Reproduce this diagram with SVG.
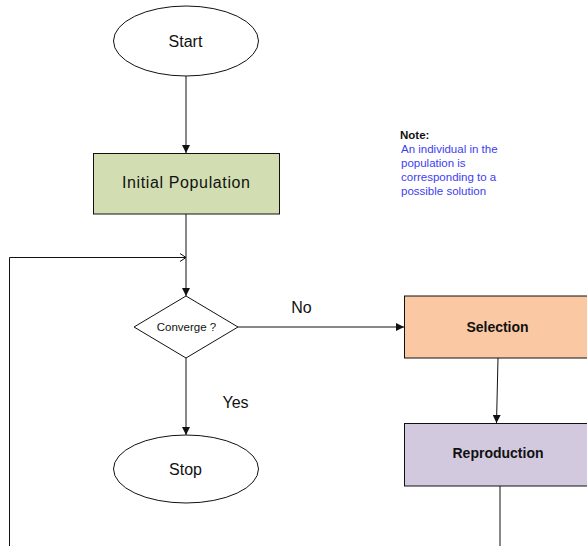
<svg xmlns="http://www.w3.org/2000/svg" width="587" height="546" viewBox="0 0 587 546">
<style>
.ln{fill:none;stroke:#111;stroke-width:1}
.sh{stroke:#111;stroke-width:1}
.t{font-family:"Liberation Sans",Arial,sans-serif;fill:#111;text-anchor:middle}
.big{font-size:16px}
.bold{font-size:14px;font-weight:bold}
.note{font-family:"Liberation Sans",Arial,sans-serif;font-size:11.5px;fill:#3d3df2}
</style>
<defs>
<marker id="arr" markerUnits="userSpaceOnUse" markerWidth="9" markerHeight="8" refX="8" refY="4" orient="auto">
<path d="M0,0 L8,4 L0,8 z" fill="#111"/>
</marker>
<marker id="open" markerUnits="userSpaceOnUse" markerWidth="8" markerHeight="10" refX="6" refY="5" orient="auto">
<path d="M0,1 L6,5 L0,9" fill="none" stroke="#111" stroke-width="1"/>
</marker>
</defs>
<rect width="587" height="546" fill="#fff"/>
<g id="connectors">
<line class="ln" x1="186" y1="76" x2="186" y2="153" marker-end="url(#arr)"/>
<line class="ln" x1="186" y1="214" x2="186" y2="296" marker-end="url(#arr)"/>
<line class="ln" x1="186" y1="358" x2="186" y2="435" marker-end="url(#arr)"/>
<line class="ln" x1="238" y1="327" x2="404" y2="327" marker-end="url(#arr)"/>
<line class="ln" x1="498" y1="358" x2="496.5" y2="423" marker-end="url(#arr)"/>
<line class="ln" x1="500" y1="486" x2="500" y2="546"/>
<polyline class="ln" points="9.5,546 9.5,257.5 186,257.5" marker-end="url(#open)"/>
<text class="t big" x="301.5" y="313">No</text>
<text class="t big" x="235.5" y="408">Yes</text>
</g>
<g id="start">
<ellipse class="sh" cx="186" cy="41" rx="72.5" ry="35" fill="#fff"/>
<text class="t big" x="185.5" y="47">Start</text>
</g>
<g id="initial">
<rect class="sh" x="93.5" y="153.5" width="186" height="60.5" fill="#d2deb2"/>
<text class="t big" x="186" y="188" textLength="128" lengthAdjust="spacing">Initial Population</text>
</g>
<g id="converge">
<polygon class="sh" points="186,296 238,327 186,358 134,327" fill="#fff"/>
<text class="t" x="186.5" y="331" font-size="11.5">Converge ?</text>
</g>
<g id="stop">
<ellipse class="sh" cx="186" cy="469" rx="72.5" ry="34" fill="#fff"/>
<text class="t big" x="185.5" y="475">Stop</text>
</g>
<g id="selection">
<rect class="sh" x="404.5" y="296" width="190" height="62" fill="#fac9a4"/>
<text class="t bold" x="497.5" y="332">Selection</text>
</g>
<g id="reproduction">
<rect class="sh" x="404.5" y="423.5" width="190" height="62.5" fill="#d3c9df"/>
<text class="t bold" x="498" y="458">Reproduction</text>
</g>
<g id="note">
<text x="400" y="139" font-family="Liberation Sans,Arial,sans-serif" font-size="11.5px" font-weight="bold" fill="#111">Note:</text>
<text class="note" x="401" y="153">An individual in the</text>
<text class="note" x="401" y="167">population is</text>
<text class="note" x="401" y="181">corresponding to a</text>
<text class="note" x="401" y="195">possible solution</text>
</g>
</svg>
